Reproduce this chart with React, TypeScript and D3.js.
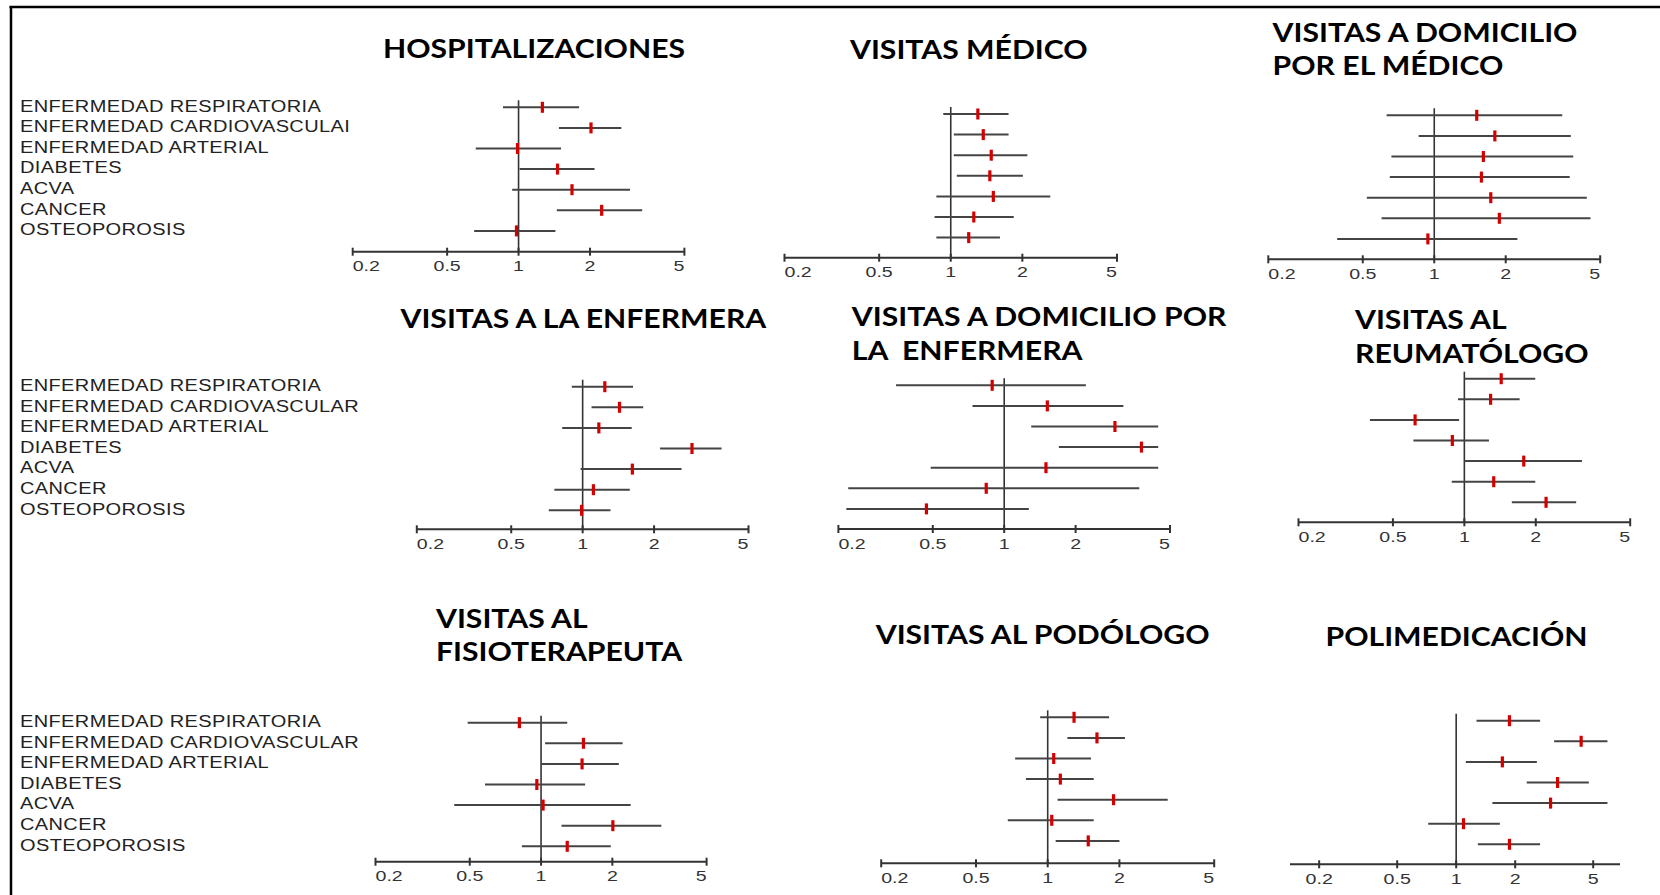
import React from 'react';
import * as d3 from 'd3';

// Categorías (la primera columna de arriba sale recortada en el original)
const categorias = [
  'ENFERMEDAD RESPIRATORIA',
  'ENFERMEDAD CARDIOVASCULAR',
  'ENFERMEDAD ARTERIAL',
  'DIABETES',
  'ACVA',
  'CANCER',
  'OSTEOPOROSIS',
];
const categoriasHosp = [
  'ENFERMEDAD RESPIRATORIA',
  'ENFERMEDAD CARDIOVASCULAI',
  'ENFERMEDAD ARTERIAL',
  'DIABETES',
  'ACVA',
  'CANCER',
  'OSTEOPOROSIS',
];

const tickValues = [0.2, 0.5, 1, 2, 5];
const tickLabels = ['0.2', '0.5', '1', '2', '5'];

// [IC inferior, OR, IC superior]
const hospitalizaciones = [
  [0.86, 1.26, 1.8], [1.48, 2.02, 2.71], [0.66, 0.99, 1.51], [1.01, 1.46, 2.09],
  [0.94, 1.68, 2.95], [1.45, 2.24, 3.32], [0.65, 0.98, 1.43],
];
const visitasMedico = [
  [0.93, 1.3, 1.75], [1.03, 1.37, 1.75], [1.03, 1.48, 2.1], [1.06, 1.46, 2.01],
  [0.87, 1.51, 2.62], [0.855, 1.25, 1.84], [0.87, 1.19, 1.61],
];
const domicilioMedico = [
  [0.63, 1.51, 3.46], [0.86, 1.8, 3.76], [0.66, 1.61, 3.85], [0.65, 1.58, 3.72],
  [0.52, 1.73, 4.39], [0.6, 1.88, 4.55], [0.39, 0.94, 2.24],
];
const visitasEnfermera = [
  [0.9, 1.24, 1.63], [1.09, 1.43, 1.8], [0.82, 1.17, 1.61], [2.12, 2.89, 3.85],
  [0.98, 1.62, 2.61], [0.76, 1.11, 1.58], [0.72, 0.99, 1.31],
];
const domicilioEnfermera = [
  [0.35, 0.89, 2.21], [0.735, 1.52, 3.18], [1.3, 2.93, 4.46], [1.7, 3.79, 4.46],
  [0.49, 1.5, 4.46], [0.22, 0.84, 3.71], [0.216, 0.47, 1.27],
];
const reumatologo = [
  [1.0, 1.43, 1.99], [0.94, 1.29, 1.71], [0.4, 0.62, 0.95], [0.61, 0.89, 1.27],
  [1.0, 1.78, 3.13], [0.885, 1.33, 1.99], [1.585, 2.21, 2.96],
];
const fisioterapeuta = [
  [0.49, 0.81, 1.29], [1.04, 1.51, 2.21], [1.0, 1.49, 2.13], [0.58, 0.96, 1.535],
  [0.43, 1.02, 2.39], [1.22, 2.01, 3.22], [0.83, 1.29, 1.97],
];
const podologo = [
  [0.93, 1.29, 1.81], [1.21, 1.61, 2.11], [0.73, 1.06, 1.52], [0.81, 1.13, 1.56],
  [1.1, 1.89, 3.19], [0.68, 1.04, 1.56], [1.08, 1.48, 2.0],
];
const polimedicacion = [
  [1.27, 1.87, 2.68], [3.16, 4.34, 5.91], [1.12, 1.72, 2.58], [2.29, 3.29, 4.75],
  [1.53, 3.03, 5.91], [0.72, 1.09, 1.67], [1.29, 1.87, 2.68],
];

// Disposición de cada panel (px)
const panels = [
  { title: ['HOSPITALIZACIONES'], tx: 383, ty: [58.3], data: hospitalizaciones, labels: categoriasHosp,
    domain: [0.2, 5], x: [352.7, 684.4], rowTop: 107.3, axisY: 251.7 },
  { title: ['VISITAS MÉDICO'], tx: 850, ty: [59.3], data: visitasMedico,
    domain: [0.2, 5], x: [784.5, 1117], rowTop: 114, axisY: 257.7 },
  { title: ['VISITAS A DOMICILIO', 'POR EL MÉDICO'], tx: 1272.6, ty: [41.7, 75], data: domicilioMedico,
    domain: [0.2, 5], x: [1268.3, 1600.2], rowTop: 115.3, axisY: 259.3 },
  { title: ['VISITAS A LA ENFERMERA'], tx: 400.5, ty: [328.3], data: visitasEnfermera, labels: categorias,
    domain: [0.2, 5], x: [416.8, 748.5], rowTop: 386.7, axisY: 529.3 },
  { title: ['VISITAS A DOMICILIO POR', 'LA  ENFERMERA'], tx: 851.8, ty: [326, 360], data: domicilioEnfermera,
    domain: [0.2, 5], x: [838.4, 1170], rowTop: 385.3, axisY: 529 },
  { title: ['VISITAS AL', 'REUMATÓLOGO'], tx: 1355, ty: [329.3, 362.7], data: reumatologo,
    domain: [0.2, 5], x: [1298.5, 1630.2], rowTop: 378.7, axisY: 522.3 },
  { title: ['VISITAS AL', 'FISIOTERAPEUTA'], tx: 436, ty: [628.3, 660.7], data: fisioterapeuta, labels: categorias,
    domain: [0.2, 5], x: [375.5, 706.6], rowTop: 722.7, axisY: 861.7 },
  { title: ['VISITAS AL PODÓLOGO'], tx: 875.7, ty: [644], data: podologo,
    domain: [0.2, 5], x: [881.2, 1214.2], rowTop: 717.3, axisY: 863.3 },
  { title: ['POLIMEDICACIÓN'], tx: 1325.5, ty: [646], data: polimedicacion,
    domain: [0.142, 6.85], x: [1290, 1620], rowTop: 720.7, axisY: 864.3 },
];

const rowStep = 20.6;

const Panel = ({ p }: { p: any }) => {
  const xScale = d3.scaleLog().domain(p.domain).range(p.x);
  const yScale = d3.scalePoint<number>()
    .domain(d3.range(p.data.length))
    .range([p.rowTop, p.rowTop + rowStep * (p.data.length - 1)]);
  const x1 = xScale(1);

  return (
    <g>
      {p.title.map((t: string, i: number) => (
        <text key={i} transform={`translate(${p.tx},${p.ty[i]}) scale(1.16,1)`}
          fontFamily="Lato, 'Open Sans', sans-serif"
          fontWeight={700} fontSize={26} fill="#000" style={{ whiteSpace: 'pre' }}>{t}</text>
      ))}

      {p.labels && p.labels.map((l: string, i: number) => (
        <text key={l} transform={`translate(20,${yScale(i)! + 4.2}) scale(1.25,1)`}
          fontFamily="'Liberation Sans', Arial, sans-serif" fontSize={16} letterSpacing={0.3}
          fill="#222">{l}</text>
      ))}

      {/* línea de referencia OR = 1 */}
      <line x1={x1} x2={x1} y1={p.rowTop - 7} y2={p.axisY} stroke="#333" strokeWidth={1.6} />

      {p.data.map((d: number[], i: number) => (
        <g key={i}>
          <line x1={xScale(d[0])} x2={xScale(d[2])} y1={yScale(i)} y2={yScale(i)}
            stroke="#444" strokeWidth={2} />
          <rect x={xScale(d[1]) - 1.6} y={yScale(i)! - 5.5} width={3.2} height={11} fill="#d40000" />
        </g>
      ))}

      {/* eje */}
      <line x1={p.x[0]} x2={p.x[1]} y1={p.axisY} y2={p.axisY} stroke="#333" strokeWidth={2} />
      {tickValues.map((v, i) => {
        const tx = xScale(v);
        const anchor = Math.abs(tx - p.x[0]) < 1 ? 'start' : Math.abs(tx - p.x[1]) < 1 ? 'end' : 'middle';
        return (
          <g key={v}>
            <line x1={tx} x2={tx} y1={p.axisY - 4} y2={p.axisY + 4} stroke="#333" strokeWidth={2} />
            <text transform={`translate(${tx},${p.axisY + 19.5}) scale(1.4,1)`} textAnchor={anchor}
              fontFamily="'Liberation Sans', Arial, sans-serif" fontSize={14} fill="#333">{tickLabels[i]}</text>
          </g>
        );
      })}
    </g>
  );
};

export default function App() {
  return (
    <svg width={1660} height={895} style={{ position: 'absolute', left: 0, top: 0, background: '#fff' }}>
      <rect width={1660} height={895} fill="#fff" />
      {/* marco */}
      <line x1={9.5} x2={1660} y1={7} y2={7} stroke="#000" strokeWidth={2.5} />
      <line x1={11} x2={11} y1={6} y2={895} stroke="#000" strokeWidth={2.5} />
      {panels.map((p, i) => <Panel key={i} p={p} />)}
    </svg>
  );
}
